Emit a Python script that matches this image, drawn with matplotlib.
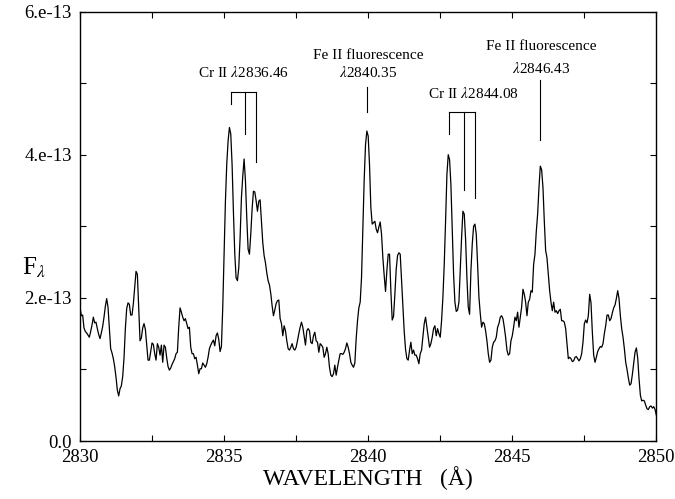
import numpy as np
import matplotlib
matplotlib.use("Agg")
import matplotlib.pyplot as plt
from matplotlib.ticker import FixedLocator, FuncFormatter

plt.rcParams['font.family'] = ['Liberation Serif', 'DejaVu Serif']
plt.rcParams['mathtext.fontset'] = 'stix'

# spectrum: uniform pixel grid, flux in units of 1e-13
wave_start = 2830.0
dispersion = 0.04633  # A per pixel

flux = [
    # 2830.0 - 2833.3
    1.87, 1.75, 1.76, 1.58, 1.53, 1.51, 1.48, 1.45, 1.53, 1.62,
    1.73, 1.65, 1.66, 1.57, 1.49, 1.43, 1.51, 1.60, 1.73, 1.88,
    1.99, 1.87, 1.59, 1.29, 1.23, 1.15, 1.04, 0.89, 0.71, 0.63,
    0.73, 0.77, 0.90, 1.16, 1.57, 1.85, 1.93, 1.91, 1.76, 1.76,
    1.92, 2.15, 2.37, 2.33, 1.87, 1.40, 1.44, 1.58, 1.64, 1.56,
    1.35, 1.13, 1.13, 1.25, 1.37, 1.35, 1.22, 1.13, 1.36, 1.31,
    1.20, 1.34, 1.10, 1.34, 1.31, 1.16, 1.04, 0.99, 1.02, 1.07,
    1.11, 1.15, 1.22,
    # 2833.4 - 2836.7
    1.24, 1.59, 1.86, 1.80, 1.73, 1.68, 1.71, 1.64, 1.57, 1.59,
    1.31, 1.22, 1.22, 1.15, 1.17, 1.06, 0.94, 1.01, 1.01, 1.09,
    1.06, 1.03, 1.08, 1.17, 1.29, 1.34, 1.38, 1.41, 1.33, 1.47,
    1.51, 1.42, 1.25, 1.32, 1.87, 2.61, 3.35, 3.87, 4.19, 4.38,
    4.29, 3.86, 3.20, 2.62, 2.28, 2.24, 2.42, 2.84, 3.40, 3.70,
    3.94, 3.64, 3.12, 2.68, 2.61, 2.89, 3.24, 3.49, 3.48, 3.36,
    3.21, 3.35, 3.37, 3.07, 2.77, 2.59, 2.49, 2.35, 2.24, 2.18,
    2.06, 1.89, 1.75,
    # 2836.8 - 2840.1
    1.83, 1.92, 1.96, 1.97, 1.71, 1.64, 1.47, 1.61, 1.54, 1.40,
    1.29, 1.27, 1.31, 1.36, 1.29, 1.27, 1.31, 1.40, 1.50, 1.59,
    1.66, 1.59, 1.47, 1.34, 1.54, 1.57, 1.54, 1.38, 1.36, 1.47,
    1.52, 1.40, 1.38, 1.24, 1.36, 1.34, 1.31, 1.17, 1.22, 1.31,
    1.22, 1.03, 0.92, 0.90, 0.94, 1.06, 0.92, 1.03, 1.13, 1.22,
    1.22, 1.21, 1.24, 1.29, 1.37, 1.31, 1.22, 1.10, 1.06, 1.03,
    1.09, 1.43, 1.68, 1.86, 1.94, 2.28, 2.96, 3.65, 4.14, 4.33,
    4.26, 3.86, 3.26, 3.03,
    # 2840.2 - 2843.5
    3.05, 3.07, 2.96, 2.91, 2.99, 3.06, 2.89, 2.56, 2.31, 2.09,
    2.38, 2.61, 2.61, 2.10, 1.69, 1.74, 2.05, 2.40, 2.59, 2.63,
    2.61, 2.24, 1.87, 1.53, 1.28, 1.15, 1.13, 1.27, 1.38, 1.22,
    1.27, 1.20, 1.20, 1.15, 1.08, 1.22, 1.27, 1.45, 1.64, 1.73,
    1.59, 1.45, 1.31, 1.36, 1.45, 1.57, 1.61, 1.47, 1.57, 1.50,
    1.45, 1.68, 2.01, 2.47, 3.07, 3.72, 4.00, 3.93, 3.58, 2.96,
    2.33, 1.94, 1.81, 1.83, 1.94, 2.38, 2.84, 3.21, 3.17, 2.82,
    2.28, 1.87, 1.77,
    # 2843.6 - 2847.0
    2.38, 2.75, 3.00, 3.03, 2.89, 2.47, 2.01, 1.78, 1.59, 1.66,
    1.64, 1.54, 1.40, 1.22, 1.10, 1.13, 1.31, 1.38, 1.40, 1.45,
    1.59, 1.64, 1.73, 1.75, 1.71, 1.59, 1.45, 1.27, 1.20, 1.22,
    1.40, 1.47, 1.59, 1.73, 1.68, 1.80, 1.59, 1.73, 1.87, 2.12,
    2.05, 1.94, 1.75, 1.94, 1.98, 2.10, 2.08, 2.47, 2.61, 2.93,
    3.17, 3.54, 3.84, 3.79, 3.54, 3.07, 2.66, 2.56, 2.33, 2.10,
    1.94, 1.82, 1.94, 1.80, 1.82, 1.78, 1.82, 1.84, 1.68, 1.68,
    1.66, 1.57, 1.36, 1.15,
    # 2847.0 - 2850.0
    1.17, 1.15, 1.11, 1.12, 1.17, 1.18, 1.15, 1.12, 1.15, 1.22,
    1.38, 1.64, 1.69, 1.65, 1.75, 2.05, 1.93, 1.52, 1.20, 1.10,
    1.17, 1.25, 1.29, 1.32, 1.31, 1.36, 1.50, 1.61, 1.76, 1.76,
    1.68, 1.71, 1.79, 1.86, 1.90, 1.99, 2.10, 1.99, 1.75, 1.57,
    1.45, 1.29, 1.10, 1.00, 0.88, 0.78, 0.80, 0.93, 1.09, 1.24,
    1.30, 1.16, 0.87, 0.64, 0.56, 0.57, 0.56, 0.50, 0.45, 0.44,
    0.48, 0.49, 0.46, 0.48, 0.44, 0.36,
]

x_ticks = [2830, 2835, 2840, 2845, 2850]
x_minor = [2832.5, 2837.5, 2842.5, 2847.5]
y_ticks = [0.0, 2e-13, 4e-13, 6e-13]
y_ticklabels = ["0.0", "2.e-13", "4.e-13", "6.e-13"]
y_minor = [1e-13, 3e-13, 5e-13]

# line identifications (wavelengths of the marks, flux units 1e-13)
cr1_label = r"Cr II $\lambda$2836.46"
cr1_marks = [2835.25, 2835.72, 2836.12]
cr1_tips = [4.71, 4.29, 3.90]
cr1_top = 4.88

cr2_label = r"Cr II $\lambda$2844.08"
cr2_marks = [2842.81, 2843.32, 2843.70]
cr2_tips = [4.29, 3.50, 3.40]
cr2_top = 4.59

fe1_label = "Fe II fluorescence\n" + r"$\lambda$2840.35"
fe1_mark = 2839.96
fe1_span = [4.60, 4.95]

fe2_label = "Fe II fluorescence\n" + r"$\lambda$2846.43"
fe2_mark = 2845.99
fe2_span = [4.20, 5.05]

wavelength = wave_start + dispersion * np.arange(len(flux))
flux = np.array(flux) * 1e-13

fig = plt.figure(figsize=(6.75, 4.99), dpi=100)
ax = fig.add_axes([0.1185, 0.1162, 0.8533, 0.8607])

ax.plot(wavelength, flux, color='k', lw=0.9)

# Cr II brackets
for marks, tips, top in [(cr1_marks, cr1_tips, cr1_top), (cr2_marks, cr2_tips, cr2_top)]:
    ax.plot([marks[0], marks[-1]], [top * 1e-13, top * 1e-13], color='k', lw=0.8)
    for m, t in zip(marks, tips):
        ax.plot([m, m], [top * 1e-13, t * 1e-13], color='k', lw=0.8)

# Fe II marks
for m, span in [(fe1_mark, fe1_span), (fe2_mark, fe2_span)]:
    ax.plot([m, m], [span[0] * 1e-13, span[1] * 1e-13], color='k', lw=0.8)

ax.text(2835.68, 5.15e-13, cr1_label, ha='center', va='center', fontsize=11)
ax.text(2843.66, 4.85e-13, cr2_label, ha='center', va='center', fontsize=11)
ax.text(2840.0, 5.26e-13, fe1_label, ha='center', va='center', fontsize=11,
        linespacing=1.25)
ax.text(2846.02, 5.35e-13, fe2_label, ha='center', va='center', fontsize=11,
        linespacing=1.6)

ax.set_xlim(2830, 2850)
ax.set_ylim(0, 6e-13)

ax.xaxis.set_major_locator(FixedLocator(x_ticks))
ax.xaxis.set_minor_locator(FixedLocator(x_minor))
ax.yaxis.set_major_locator(FixedLocator(y_ticks))
ax.yaxis.set_minor_locator(FixedLocator(y_minor))
ax.yaxis.set_major_formatter(FuncFormatter(lambda v, pos: y_ticklabels[pos]))
ax.yaxis.get_offset_text().set_visible(False)
ax.xaxis.get_offset_text().set_visible(False)
ax.tick_params(which='both', direction='in', top=True, right=True,
               length=4, width=0.8, labelsize=13.5, pad=6)

for s in ax.spines.values():
    s.set_linewidth(1.0)

ax.set_xlabel(u"WAVELENGTH   (\u00c5)", fontsize=17, labelpad=0)
ax.set_ylabel(r"F$_\lambda$", fontsize=18, rotation=0)
ax.yaxis.set_label_coords(-0.08, 0.375)

fig.savefig("out.png", dpi=100)
